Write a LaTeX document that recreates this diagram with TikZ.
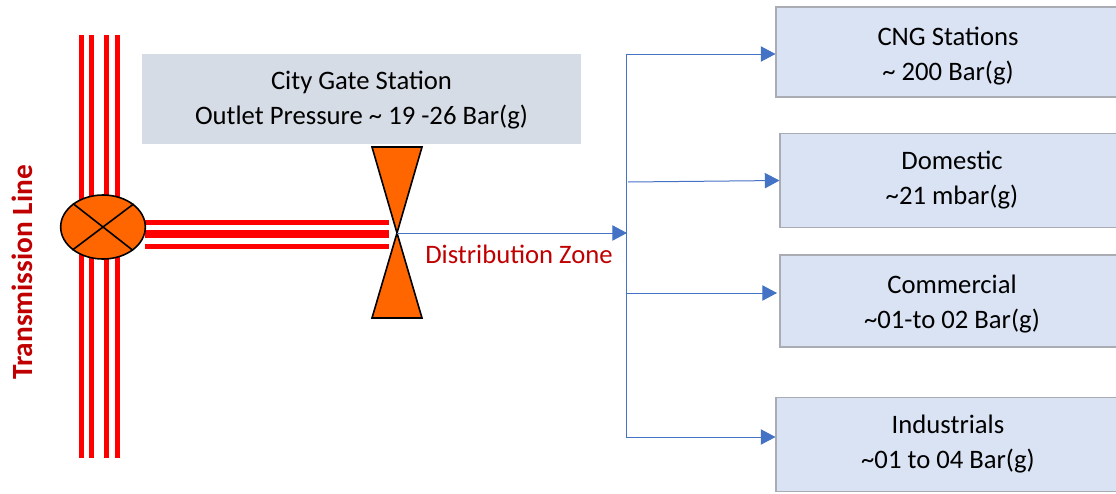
\documentclass[tikz,border=0pt]{standalone}
\usepackage{fontspec}
\setmainfont{Carlito}
\usepackage{xcolor}
\usetikzlibrary{arrows.meta,shapes.geometric}
\definecolor{gatefill}{HTML}{D6DCE5}
\definecolor{boxfill}{HTML}{DAE3F3}
\definecolor{boxline}{HTML}{A9ADB3}
\definecolor{feedblue}{HTML}{4472C4}
\definecolor{valveorange}{HTML}{FF6600}
\definecolor{labelred}{HTML}{C00000}
\begin{document}
\begin{tikzpicture}[x=0.75pt,y=-0.75pt,>={Triangle[length=11pt,width=11.5pt]},
                    font=\fontsize{20pt}{26.25pt}\selectfont]
  \tikzstyle{pipe}=[draw=red,line width=3.75pt]
  \tikzstyle{feed}=[color=feedblue,line width=0.75pt]
  \tikzstyle{valve}=[draw=black,line width=1.2pt,fill=valveorange,line join=miter]
  \tikzstyle{gatebox}=[fill=gatefill,align=center,minimum width=329.25pt,minimum height=67.5pt,inner sep=0pt]
  \tikzstyle{loadbox}=[fill=boxfill,draw=boxline,line width=0.8pt,align=center,inner sep=0pt]

  \useasboundingbox (0,0) rectangle (1116,493);

  % supply pipes
  \foreach \x in {81,91,106,117}
    \draw[pipe] (\x,35) -- (\x,458);
  \draw[pipe] (145,222) -- (389,222);
  \draw[pipe,line width=5.5pt] (145,234) -- (389,234);
  \draw[pipe] (145,246) -- (389,246);

  \node[ellipse,draw=black,line width=1.2pt,fill=valveorange,inner sep=0pt,
        minimum width=63.5pt,minimum height=48pt] (tap) at (103,227) {};
  \draw[line width=1.2pt] (tap.37.5) -- (tap.217.5);
  \draw[line width=1.2pt] (tap.142.5) -- (tap.322.5);

  \node[gatebox] (gate) at (361.5,99) {\rule{0pt}{15pt}City Gate Station\\Outlet Pressure \textasciitilde{} 19 -26 Bar(g)};

  \coordinate (throat) at (397,233);
  \draw[valve] (372,147) -- (422,147) -- (throat) -- cycle;
  \draw[valve] (372,318) -- (422,318) -- (throat) -- cycle;

  \node[loadbox,minimum width=258pt,minimum height=67.5pt] (cng) at (948,52) {\rule{0pt}{19.5pt}CNG Stations\\\textasciitilde{} 200 Bar(g)};
  \node[loadbox,minimum width=258pt,minimum height=71pt] (domestic) at (952,180.5) {Domestic\\\textasciitilde21 mbar(g)};
  \node[loadbox,minimum width=258pt,minimum height=69pt] (commercial) at (952,301) {\rule{0pt}{18pt}Commercial\\\textasciitilde01-to 02 Bar(g)};
  \node[loadbox,minimum width=258pt,minimum height=71pt] (industrial) at (948,444.5) {Industrials\\\textasciitilde01 to 04 Bar(g)};

  \coordinate (bustop) at (626,54);
  \coordinate (busin) at (627,233);
  \coordinate (busbot) at (626,438);
  \coordinate (tapdom) at (628,182);
  \coordinate (tapcom) at (627,293);
  \coordinate (tapind) at (627,437);
  \coordinate (endcom) at (777,293);

  \path[feed] (bustop) edge (busbot)
        (throat) edge[->] (busin)
        (bustop) edge[->] (bustop -| cng.west)
        (tapdom) edge[->] (domestic.west)
        (tapcom) edge[->] (endcom)
        (tapind) edge[->] (tapind -| industrial.west);

  \node[text=labelred,inner sep=0pt] (zone) at (519,254) {Distribution Zone};
  \node[text=labelred,inner sep=0pt,rotate=90,font=\fontsize{22pt}{24pt}\selectfont\bfseries] (line) at (22,272.5) {Transmission Line};
\end{tikzpicture}
\end{document}
